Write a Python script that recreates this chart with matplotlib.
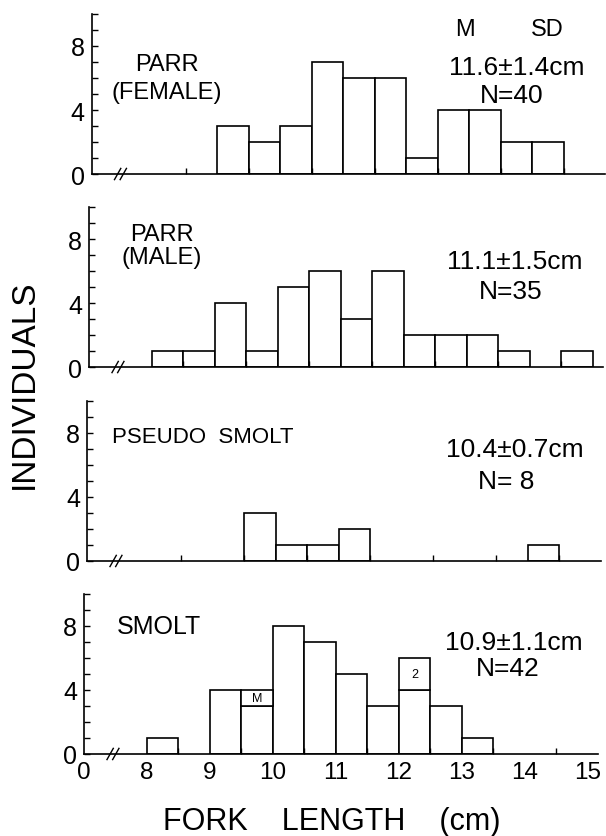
import numpy as np
import matplotlib.pyplot as plt

# fork length classes (left edge, cm), 0.5 cm wide
bin_left = np.arange(8.0, 15.0, 0.5)
bin_w = 0.5

parr_female = [0, 0, 3, 2, 3, 7, 6, 6, 1, 4, 4, 2, 2, 0]
parr_male = [1, 1, 4, 1, 5, 6, 3, 6, 2, 2, 2, 1, 0, 1]
pseudo_smolt = [0, 0, 0, 3, 1, 1, 2, 0, 0, 0, 0, 0, 1, 0]
smolt = [1, 0, 4, 4, 8, 7, 5, 3, 6, 3, 1, 0, 0, 0]
# smolt bars split into two parts (lower part height, label of upper part)
smolt_lower = [1, 0, 4, 3, 8, 7, 5, 3, 4, 3, 1, 0, 0, 0]
smolt_upper_lbl = ['', '', '', 'M', '', '', '', '', '2', '', '', '', '', '']

groups = ['PARR\n(FEMALE)', 'PARR\n(MALE)', 'PSEUDO  SMOLT', 'SMOLT']
means = ['11.6', '11.1', '10.4', '10.9']
sds = ['1.4', '1.5', '0.7', '1.1']
ns = ['40', '35', ' 8', '42']

xticks = [7, 8, 9, 10, 11, 12, 13, 14, 15]
xticklabels = ['0', '8', '9', '10', '11', '12', '13', '14', '15']

plt.rcParams['font.family'] = ['Liberation Sans', 'DejaVu Sans']

fig = plt.figure(figsize=(6.06, 8.37), dpi=100)
# the scanned page is slightly skewed, so each panel starts a bit further left
lefts = [91.5 / 606, 89 / 606, 87 / 606, 84 / 606]
bottoms = [0.7909, 0.5603, 0.3286, 0.098]
data = [parr_female, parr_male, pseudo_smolt, smolt]

# text positions per panel (data coords)
grp_pos = [(8.2, 6.0), (8.16, 7.6), (7.4, 7.75), (7.52, 8.0)]
grp_size = [17, 17, 16, 18]
grp_lsp = [1.35, 1.08, 1, 1]
stat_x = [(13.75, 13.67), (13.76, 13.7), (13.8, 13.65), (13.83, 13.73)]
stat_y = [(6.7, 4.95), (6.6, 4.75), (7.0, 5.0), (7.0, 5.4)]

for i in range(4):
    ax = fig.add_axes([lefts[i], bottoms[i], 0.848, 0.1912])
    vals = np.array(data[i])
    keep = vals > 0
    if i == 3:
        low = np.array(smolt_lower)
        ax.bar(bin_left[keep], low[keep], width=bin_w, align='edge',
               facecolor='white', edgecolor='black', linewidth=1.2)
        up = vals - low
        k2 = up > 0
        ax.bar(bin_left[k2], up[k2], bottom=low[k2], width=bin_w, align='edge',
               facecolor='white', edgecolor='black', linewidth=1.2)
        for j in np.where(k2)[0]:
            ax.text(bin_left[j] + bin_w / 2, low[j] + up[j] / 2, smolt_upper_lbl[j],
                    ha='center', va='center', fontsize=9)
    else:
        ax.bar(bin_left[keep], vals[keep], width=bin_w, align='edge',
               facecolor='white', edgecolor='black', linewidth=1.2)

    ax.set_xlim(7, 15.16)
    ax.set_ylim(0, 10)
    ax.spines['top'].set_visible(False)
    ax.spines['right'].set_visible(False)
    ax.spines['left'].set_linewidth(1.2)
    ax.spines['bottom'].set_linewidth(1.2)

    ax.set_yticks(range(0, 11))
    ax.set_yticklabels(['0', '', '', '', '4', '', '', '', '8', '', ''], fontsize=18)
    ax.tick_params(axis='y', direction='in', length=4, width=1, pad=5)
    ax.set_xticks(np.arange(8, 15.01, 0.5), minor=True)
    ax.set_xticks(xticks)
    ax.tick_params(axis='x', which='both', direction='in', length=4, width=1)
    ax.tick_params(axis='x', which='major', length=0)
    if i == 3:
        ax.set_xticklabels(xticklabels, fontsize=17.5)
        ax.tick_params(axis='x', which='major', pad=5)
    else:
        ax.set_xticklabels([])

    # axis break mark
    for dx in (-0.045, 0.045):
        ax.plot([7.41 + dx, 7.51 + dx], [-0.35, 0.35], color='black', lw=1, clip_on=False)

    gx, gy = grp_pos[i]
    if i < 2:
        ax.text(gx, gy, groups[i], ha='center', va='center', fontsize=grp_size[i],
                linespacing=grp_lsp[i])
    else:
        ax.text(gx, gy, groups[i], ha='left', va='center', fontsize=grp_size[i])

    sx1, sx2 = stat_x[i]
    sy1, sy2 = stat_y[i]
    ax.text(sx1, sy1, means[i] + '±' + sds[i] + 'cm', ha='center', va='center',
            fontsize=19)
    ax.text(sx2, sy2, 'N=' + ns[i], ha='center', va='center', fontsize=19)
    if i == 0:
        ax.text(12.93, 9.05, 'M', ha='center', va='center', fontsize=17)
        ax.text(14.23, 9.05, 'SD', ha='center', va='center', fontsize=17)

fig.text(0.04, 0.541, 'INDIVIDUALS', rotation=90, ha='center', va='center', fontsize=24)
fig.text(0.548, 0.018, 'FORK    LENGTH    (cm)', ha='center', va='center', fontsize=22)

plt.savefig('out.png', dpi=100)
